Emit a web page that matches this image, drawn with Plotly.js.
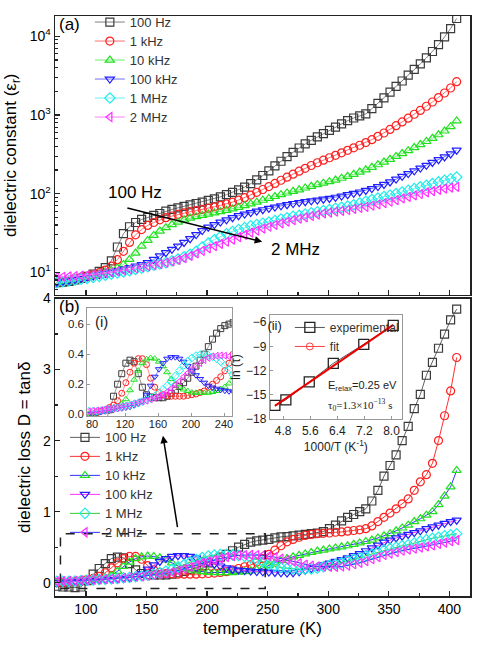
<!DOCTYPE html>
<html>
<head>
<meta charset="utf-8">
<script src="https://cdn.plot.ly/plotly-3.0.1.min.js"></script>
<style>
  html, body { margin: 0; padding: 0; background: #fff; }
  #chart { width: 478px; height: 647px; }
</style>
</head>
<body>
<div id="chart"></div>
<script>
// temperature grid (K)
const temps = [76, 81, 86, 91, 96, 101, 106, 111, 116, 121, 126, 131, 136, 141, 146, 151, 156, 161, 166, 171,
  176, 181, 186, 191, 196, 201, 206, 211, 216, 221, 226, 231, 236, 241, 246, 251, 256, 261, 266, 271,
  276, 281, 286, 291, 296, 301, 306, 311, 316, 321, 326, 331, 336, 341, 346, 351, 356, 361, 366, 371,
  376, 381, 386, 391, 396, 401, 406];

const freqNames = ['100 Hz', '1 kHz', '10 kHz', '100 kHz', '1 MHz', '2 MHz'];

// (a) dielectric constant
const eps100Hz = [7.4, 7.5, 7.7, 8.0, 8.4, 8.9, 9.5, 10.3, 11.5, 14, 21, 31, 38, 43, 47, 50, 53, 56, 60, 63,
  66, 69, 72, 75, 78, 82, 86, 91, 97, 104, 112, 121, 134, 150, 170, 195, 225, 258, 295, 335,
  380, 428, 475, 525, 578, 635, 700, 770, 845, 915, 975, 1030, 1200, 1400, 1650, 1950, 2300, 2700, 3200, 3800,
  4450, 5300, 6400, 7800, 9800, 12500, 16800];
const eps1kHz = [7.5, 7.7, 7.9, 8.2, 8.5, 8.9, 9.3, 9.9, 10.7, 12, 14.5, 18.5, 24, 30, 35, 39.5, 43, 46.5, 49.5, 52,
  54.5, 57, 59, 61, 63, 65.5, 68, 71, 74, 78, 83, 89, 96, 104, 113, 123, 135, 148, 162, 177,
  193, 210, 228, 247, 266, 286, 307, 330, 355, 382, 412, 445, 485, 535, 590, 655, 730, 815, 910, 1020,
  1140, 1290, 1460, 1660, 1900, 2200, 2650];
const eps10kHz = [7.5, 7.7, 7.9, 8.2, 8.5, 8.8, 9.2, 9.6, 10.0, 10.6, 11.4, 12.6, 14.6, 17.6, 21.5, 25.5, 29.5, 33.5, 37, 40.5,
  43.5, 46.5, 49, 51, 53, 55, 57, 59, 61.5, 64, 67, 70.5, 74, 78, 82.5, 87, 92, 97, 102, 107,
  112, 118, 124, 130, 136, 142, 149, 157, 166, 176, 188, 201, 216, 233, 252, 273, 297, 323, 352, 385,
  420, 460, 505, 560, 625, 710, 840];
const eps100kHz = [7.5, 7.7, 7.9, 8.1, 8.4, 8.7, 9.0, 9.3, 9.7, 10.1, 10.5, 11.0, 11.5, 12.0, 12.6, 13.3, 14.6, 16.2, 17.8, 19.6,
  21.6, 24, 26.8, 30.2, 34, 37.5, 40.5, 43.5, 46.5, 49.5, 52.5, 55, 57.5, 60, 62.5, 65, 67.5, 70, 72.5, 75,
  77, 79, 81, 83, 85, 87, 90, 93, 97, 101, 105, 110, 116, 123, 131, 141, 153, 166, 180, 195,
  211, 229, 249, 270, 293, 320, 357];
const eps1MHz = [7.4, 7.6, 7.8, 8.0, 8.2, 8.4, 8.6, 8.9, 9.2, 9.5, 9.8, 10.1, 10.5, 10.9, 11.3, 11.8, 12.3, 12.8, 13.3, 14.0,
  14.8, 15.8, 17.0, 18.5, 21.0, 23.5, 26, 28.5, 31, 33, 35, 37, 39, 40.5, 42, 43.5, 45.5, 47.5, 49.5, 51.5,
  53, 55, 57, 59, 61, 63, 65, 67, 69.5, 72, 76, 80, 84, 88, 92, 96, 100, 105, 110, 116,
  122, 128, 134, 141, 148, 155, 163];
const eps2MHz = [8.8, 8.8, 8.9, 9.0, 9.1, 9.2, 9.4, 9.6, 9.8, 10.0, 10.3, 10.6, 10.9, 11.2, 11.6, 12.0, 12.4, 12.8, 13.3, 13.8,
  14.4, 15.2, 16.2, 17.4, 18.8, 20.2, 21.6, 23, 24.5, 26, 28, 30, 32, 34, 36, 38, 40, 42, 44, 46,
  48, 50, 52, 54, 56, 57.5, 59, 60.5, 62, 64, 66, 68, 70.5, 73, 76, 79, 83, 87, 91, 95,
  99, 104, 108, 112, 116, 119, 122];

// (b) dielectric loss tan(delta)
const tan100Hz = [-0.05, -0.06, -0.06, -0.07, -0.06, 0.03, 0.12, 0.2, 0.27, 0.34, 0.36, 0.35, 0.27, 0.18, 0.13, 0.115, 0.11, 0.11, 0.11, 0.12,
  0.14, 0.16, 0.185, 0.21, 0.24, 0.28, 0.32, 0.36, 0.4, 0.45, 0.5, 0.54, 0.57, 0.59, 0.6, 0.61, 0.63, 0.645, 0.65, 0.66,
  0.67, 0.68, 0.69, 0.7, 0.72, 0.76, 0.81, 0.87, 0.92, 0.96, 1.0, 1.04, 1.15, 1.3, 1.5, 1.65, 1.8, 2.0, 2.2, 2.45,
  2.65, 2.92, 3.1, 3.3, 3.5, 3.7, 3.85];
const tan1kHz = [0.0, 0.0, 0.01, 0.02, 0.03, 0.045, 0.06, 0.09, 0.14, 0.21, 0.28, 0.34, 0.37, 0.37, 0.33, 0.24, 0.18, 0.145, 0.13, 0.125,
  0.12, 0.12, 0.12, 0.12, 0.125, 0.13, 0.135, 0.145, 0.155, 0.18, 0.2, 0.225, 0.25, 0.29, 0.34, 0.4, 0.46, 0.52, 0.575, 0.61,
  0.64, 0.665, 0.68, 0.69, 0.695, 0.7, 0.71, 0.715, 0.725, 0.735, 0.745, 0.76, 0.8, 0.86, 0.92, 0.98, 1.04, 1.11, 1.18, 1.3,
  1.42, 1.52, 1.68, 2.0, 2.35, 2.7, 3.17];
const tan10kHz = [0.0, 0.0, 0.01, 0.015, 0.02, 0.03, 0.04, 0.05, 0.07, 0.1, 0.16, 0.23, 0.29, 0.34, 0.365, 0.375, 0.37, 0.35, 0.32, 0.28,
  0.235, 0.2, 0.18, 0.165, 0.155, 0.145, 0.143, 0.142, 0.142, 0.143, 0.148, 0.155, 0.168, 0.182, 0.205, 0.245, 0.28, 0.31, 0.34, 0.365,
  0.385, 0.405, 0.425, 0.445, 0.46, 0.475, 0.49, 0.505, 0.52, 0.54, 0.56, 0.58, 0.6, 0.63, 0.66, 0.69, 0.73, 0.77, 0.81, 0.86,
  0.9, 0.95, 1.0, 1.1, 1.22, 1.35, 1.58];
const tan100kHz = [0.0, 0.005, 0.01, 0.015, 0.02, 0.025, 0.03, 0.035, 0.04, 0.045, 0.05, 0.06, 0.07, 0.09, 0.13, 0.19, 0.25, 0.3, 0.34, 0.37,
  0.38, 0.38, 0.37, 0.35, 0.32, 0.29, 0.26, 0.235, 0.21, 0.19, 0.178, 0.17, 0.163, 0.157, 0.153, 0.15, 0.145, 0.14, 0.135, 0.14,
  0.155, 0.175, 0.2, 0.225, 0.25, 0.275, 0.3, 0.325, 0.35, 0.38, 0.41, 0.45, 0.49, 0.53, 0.57, 0.6, 0.63, 0.655, 0.68, 0.705,
  0.73, 0.76, 0.785, 0.81, 0.835, 0.86, 0.88];
const tan1MHz = [0.02, 0.02, 0.02, 0.025, 0.03, 0.035, 0.04, 0.045, 0.05, 0.055, 0.06, 0.07, 0.075, 0.085, 0.095, 0.105, 0.12, 0.14, 0.165, 0.19,
  0.22, 0.255, 0.29, 0.325, 0.355, 0.375, 0.39, 0.397, 0.397, 0.392, 0.383, 0.37, 0.35, 0.325, 0.295, 0.26, 0.23, 0.21, 0.2, 0.195,
  0.19, 0.19, 0.195, 0.205, 0.225, 0.245, 0.26, 0.28, 0.31, 0.33, 0.35, 0.38, 0.405, 0.43, 0.455, 0.48, 0.5, 0.52, 0.535, 0.56,
  0.585, 0.605, 0.625, 0.64, 0.66, 0.675, 0.69];
const tan2MHz = [0.02, 0.022, 0.025, 0.028, 0.032, 0.036, 0.04, 0.045, 0.05, 0.055, 0.062, 0.07, 0.077, 0.084, 0.09, 0.1, 0.11, 0.12, 0.13, 0.15,
  0.17, 0.195, 0.22, 0.25, 0.275, 0.3, 0.32, 0.34, 0.36, 0.375, 0.385, 0.39, 0.392, 0.39, 0.385, 0.375, 0.36, 0.34, 0.32, 0.3,
  0.275, 0.255, 0.24, 0.23, 0.225, 0.222, 0.222, 0.228, 0.24, 0.26, 0.28, 0.305, 0.33, 0.36, 0.39, 0.41, 0.43, 0.45, 0.465, 0.48,
  0.495, 0.51, 0.525, 0.545, 0.565, 0.585, 0.6];

// inset (ii): relaxation time vs 1000/T
const invTemp = [4.555, 4.88, 5.57, 6.28, 7.18, 8.05];
const lnTau = [-16.3, -15.6, -13.4, -11.1, -8.75, -6.4];
const fitInvTemp = [4.555, 8.05];
const fitLnTau = [-16.35, -6.35];

const epsSeries = [eps100Hz, eps1kHz, eps10kHz, eps100kHz, eps1MHz, eps2MHz];
const tanSeries = [tan100Hz, tan1kHz, tan10kHz, tan100kHz, tan1MHz, tan2MHz];

const markerColors = ['#3a3a3a', '#ff2020', '#20e020', '#2020ff', '#20ecec', '#ff30ff'];
const lineColorsA = ['#808080', '#ff7070', '#70ee70', '#7070ff', '#70f0f0', '#ff80ff'];
// the loss legend has its line colours shuffled in the original
const lineColorsB = ['#606060', '#ff3030', '#3030ff', '#ff30ff', '#30cc30', '#3030ff'];
const symbols = ['square-open', 'circle-open', 'triangle-up-open', 'triangle-down-open', 'diamond-open', 'triangle-left-open'];

const FONT = 'Liberation Sans, Arial, Helvetica, sans-serif';
// legend rows are packed at the minimum height, text kept at 13px
const legendName = s => `<span style="font-size:13px">${s}</span>`;

const traces = [];

// panel (a)
epsSeries.forEach((ys, i) => {
  traces.push({
    x: temps, y: ys, xaxis: 'x2', yaxis: 'y2', legend: 'legend',
    name: legendName(freqNames[i]), type: 'scatter', mode: 'lines+markers',
    line: { color: lineColorsA[i], width: 1 },
    marker: { symbol: symbols[i], size: 8, color: markerColors[i], line: { color: markerColors[i], width: 1.2 } },
  });
});

// panel (b)
tanSeries.forEach((ys, i) => {
  traces.push({
    x: temps, y: ys, xaxis: 'x', yaxis: 'y', legend: 'legend2',
    name: legendName(freqNames[i]), type: 'scatter', mode: 'lines+markers',
    line: { color: lineColorsB[i], width: 1 },
    marker: { symbol: symbols[i], size: 8, color: markerColors[i], line: { color: markerColors[i], width: 1.2 } },
  });
});

// inset (i): zoom of the low temperature loss peaks
tanSeries.forEach((ys, i) => {
  traces.push({
    x: temps, y: ys, xaxis: 'x3', yaxis: 'y3', showlegend: false,
    type: 'scatter', mode: 'lines+markers',
    line: { color: lineColorsA[i], width: 0.8 },
    marker: { symbol: symbols[i], size: 6, color: markerColors[i], line: { color: markerColors[i], width: 1 } },
  });
});

// inset (ii)
traces.push({
  x: invTemp, y: lnTau, xaxis: 'x4', yaxis: 'y4', legend: 'legend3',
  name: 'experimental', type: 'scatter', mode: 'lines+markers',
  line: { color: '#555', width: 1 },
  marker: { symbol: 'square-open', size: 10, color: '#222', line: { color: '#222', width: 1.3 } },
});
traces.push({
  x: fitInvTemp, y: fitLnTau, xaxis: 'x4', yaxis: 'y4', showlegend: false,
  type: 'scatter', mode: 'lines', line: { color: '#ee0000', width: 2 },
});
traces.push({
  x: [null], y: [null], xaxis: 'x4', yaxis: 'y4', legend: 'legend3',
  name: 'fit', type: 'scatter', mode: 'lines+markers',
  line: { color: '#ff4040', width: 1 },
  marker: { symbol: 'circle-open', size: 7, color: '#ff4040', line: { color: '#ff4040', width: 1 } },
});

const frame = { showline: true, linewidth: 1.5, linecolor: '#222', mirror: true, showgrid: false, zeroline: false };
const inFrame = { showline: true, linewidth: 1.2, linecolor: '#999', mirror: true, showgrid: false, zeroline: false };

const layout = {
  width: 478, height: 647,
  margin: { l: 55, r: 8, t: 13, b: 51 },
  paper_bgcolor: '#fff', plot_bgcolor: '#fff',
  font: { family: FONT, size: 14, color: '#000' },
  showlegend: true,
  xaxis: {
    ...frame, domain: [0, 1], anchor: 'y', range: [74.5, 417],
    ticks: 'inside', ticklen: 5, tickwidth: 1.2, tickcolor: '#222', tick0: 0, dtick: 50,
    minor: { ticks: 'inside', ticklen: 3, tickcolor: '#222', tick0: 0, dtick: 25 },
    title: { text: 'temperature (K)', font: { size: 17 }, standoff: 6 },
  },
  yaxis: {
    ...frame, domain: [0, 0.5129], anchor: 'x', range: [-0.187, 4],
    ticks: 'inside', ticklen: 5, tickwidth: 1.2, tickcolor: '#222', tick0: 0, dtick: 1,
    minor: { ticks: 'inside', ticklen: 3, tickcolor: '#222', tick0: 0, dtick: 0.5 },
    title: { text: 'dielectric loss D = tanδ', font: { size: 17 }, standoff: 8 },
  },
  xaxis2: {
    ...frame, domain: [0, 1], anchor: 'y2', range: [74.5, 417], showticklabels: false,
    ticks: 'inside', ticklen: 5, tickwidth: 1.2, tickcolor: '#222', tick0: 0, dtick: 50,
    minor: { ticks: 'inside', ticklen: 3, tickcolor: '#222', tick0: 0, dtick: 25 },
  },
  yaxis2: {
    ...frame, domain: [0.5197, 1], anchor: 'x2', type: 'log', range: [0.718, 4.257],
    tickmode: 'array', tickvals: [10, 100, 1000, 10000],
    ticktext: ['10<sup>1</sup>', '10<sup>2</sup>', '10<sup>3</sup>', '10<sup>4</sup>'],
    ticks: 'inside', ticklen: 5, tickwidth: 1.2, tickcolor: '#222',
    minor: { ticks: 'inside', ticklen: 3, tickcolor: '#222', dtick: 'D1' },
    title: { text: 'dielectric constant (ε<sub>r</sub>)', font: { size: 17 }, standoff: 8 },
  },
  xaxis3: {
    ...inFrame, domain: [0.0783, 0.4258], anchor: 'y3', range: [74.5, 249.3],
    tickmode: 'array', tickvals: [80, 120, 160, 200, 240], ticklabelstandoff: -2,
    ticks: 'inside', ticklen: 3, tickcolor: '#999', tickfont: { size: 11, color: '#222' },
  },
  yaxis3: {
    ...inFrame, domain: [0.3105, 0.4962], anchor: 'x3', range: [-0.011, 0.706],
    tickmode: 'array', tickvals: [0, 0.2, 0.4, 0.6], tickformat: '.1f',
    ticks: 'inside', ticklen: 3, tickcolor: '#999', tickfont: { size: 11.5, color: '#222' },
  },
  xaxis4: {
    ...inFrame, domain: [0.518, 0.8354], anchor: 'y4', range: [4.41, 8.3],
    tickmode: 'array', tickvals: [4.8, 5.6, 6.4, 7.2, 8.0], tickformat: '.1f',
    ticks: 'inside', ticklen: 3, tickcolor: '#999', tickfont: { size: 12, color: '#222' },
    title: { text: '1000/T (K<sup>-1</sup>)', font: { size: 12, color: '#222' }, standoff: 2 },
  },
  yaxis4: {
    ...inFrame, domain: [0.3048, 0.4849], anchor: 'x4', range: [-18, -5.1],
    tickmode: 'array', tickvals: [-18, -15, -12, -9, -6],
    ticks: 'inside', ticklen: 3, tickcolor: '#999', tickfont: { size: 12, color: '#222' },
    title: { text: 'ln (τ)', font: { size: 12, color: '#222' }, standoff: 2 },
  },
  legend: {
    x: 0.084, y: 1.0146, xanchor: 'left', yanchor: 'top',
    bgcolor: 'rgba(0,0,0,0)', font: { size: 12, color: '#333' }, tracegroupgap: 0, itemwidth: 30,
  },
  legend2: {
    x: 0.024, y: 0.2985, xanchor: 'left', yanchor: 'top',
    bgcolor: 'rgba(0,0,0,0)', font: { size: 12, color: '#333' }, tracegroupgap: 0, itemwidth: 30,
  },
  legend3: {
    x: 0.507, y: 0.488, xanchor: 'left', yanchor: 'top',
    bgcolor: 'rgba(0,0,0,0)', font: { size: 12, color: '#333' }, tracegroupgap: 0, itemwidth: 30,
    title: { text: '(ii)', side: 'left', font: { size: 13, color: '#222' } },
  },
  shapes: [
    {
      type: 'rect', xref: 'x', yref: 'y', x0: 79, x1: 248, y0: -0.08, y1: 0.69,
      line: { color: '#222', width: 1.5, dash: 'dash' },
    },
  ],
  annotations: [
    { xref: 'paper', yref: 'paper', x: 0.005, y: 0.985, xanchor: 'left', yanchor: 'middle', text: '(a)', showarrow: false, font: { size: 17 } },
    { xref: 'paper', yref: 'paper', x: 0.004, y: 0.499, xanchor: 'left', yanchor: 'middle', text: '(b)', showarrow: false, font: { size: 17 } },
    { xref: 'paper', yref: 'paper', x: 0.092, y: 0.4734, xanchor: 'left', yanchor: 'middle', text: '(i)', showarrow: false, font: { size: 15, color: '#222' } },
    { xref: 'x2', yref: 'y2', x: 140.5, y: 2.01, xanchor: 'center', yanchor: 'middle', text: '100 Hz', showarrow: false, font: { size: 17 } },
    { xref: 'x2', yref: 'y2', x: 273, y: 1.286, xanchor: 'center', yanchor: 'middle', text: '2 MHz', showarrow: false, font: { size: 17 } },
    {
      xref: 'x2', yref: 'y2', x: 245.5, y: Math.log10(24.5), axref: 'x2', ayref: 'y2', ax: 133, ay: Math.log10(66.5),
      text: '', showarrow: true, arrowhead: 2, arrowsize: 1, arrowwidth: 1.5, arrowcolor: '#000',
    },
    {
      xref: 'x', yref: 'y', x: 163.6, y: 2.07, axref: 'x', ayref: 'y', ax: 175.8, ay: 0.763,
      text: '', showarrow: true, arrowhead: 2, arrowsize: 1, arrowwidth: 1.5, arrowcolor: '#000',
    },
    { xref: 'paper', yref: 'paper', x: 0.74, y: 0.362, xanchor: 'center', yanchor: 'middle', text: 'E<sub>relax</sub>=0.25 eV', showarrow: false, font: { size: 11, color: '#222' } },
    { xref: 'paper', yref: 'paper', x: 0.735, y: 0.329, xanchor: 'center', yanchor: 'middle', text: 'τ<sub>0</sub>=1.3×10<sup>−13</sup> s', showarrow: false, font: { size: 11, color: '#222', family: 'Liberation Serif, Times New Roman, serif' } },
  ],
};

Plotly.newPlot('chart', traces, layout, { displayModeBar: false, staticPlot: true });
</script>
</body>
</html>
